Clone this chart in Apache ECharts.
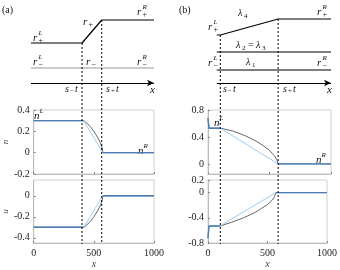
<!DOCTYPE html>
<html><head><meta charset="utf-8">
<script src="https://cdn.jsdelivr.net/npm/echarts@6/dist/echarts.min.js"></script>
<style>html,body{margin:0;padding:0;background:#fff}#c{width:340px;height:270px}</style>
</head><body><div id="c"></div>
<script>
// ---- panel (a): shocks / fan ----
const aSMinus = 415, aSPlus = 575;
const aX      = [0,   415, 440,  470,   500, 530,   555,  570,  575, 1000];
const aNgray  = [0.3, 0.3, 0.28, 0.245, 0.2, 0.145, 0.09, 0.04, 0,   0];
const aUgray  = [-0.3,-0.3,-0.28,-0.245,-0.2,-0.145,-0.09,-0.04,0,   0];
const aXlin   = [0, 415, 575, 1000];
const aNlin   = [0.3, 0.3, 0, 0];
const aUlin   = [-0.3, -0.3, 0, 0];
// ---- panel (b) ----
const bSMinus = 100, bSPlus = 570;
const bX      = [0,    8,    100,  200,  300,  400,  450,  500,  540,  560,  570, 1000];
const bNgray  = [0.68, 0.53, 0.53, 0.49, 0.42, 0.33, 0.27, 0.20, 0.12, 0.06, 0,   0];
const bUgray  = [-0.72,-0.53,-0.53,-0.47,-0.40,-0.31,-0.25,-0.19,-0.12,-0.06,0,   0];
const bXlin   = [0, 8, 100, 570, 1000];
const bNlin   = [0.68, 0.53, 0.53, 0, 0];
const bUlin   = [-0.72, -0.53, -0.53, 0, 0];
// ---- schematic wave diagrams (levels in diagram units) ----
const aDiagX  = [0, 415, 575, 1000];
const aRplus  = [201, 201, 224, 224];
const aRminus = 176, aAxis = 161;
const bDiagX  = [71, 100, 570, 1000];
const bRplus  = [209, 209, 225, 225];
const bLam23 = 192, bRminus = 174, bAxis = 161, bStart = 71;
const xTickLabels = [0, 500, 1000];

const FONT = '"Liberation Serif", "Times New Roman", "DejaVu Serif", serif';
const C_GRAY = '#666666', C_LIGHT = '#9ccbf0', C_BLUE = '#4a7db3';

function zip(xs, ys){ return xs.map((x,i)=>[x, ys[i]]); }
function flatParts(xs, ys, s1, s2){
  const out = [];
  xs.forEach((x,i)=>{ if (x<=s1) out.push([x,ys[i]]); });
  out.push(null);
  xs.forEach((x,i)=>{ if (x>=s2) out.push([x,ys[i]]); });
  return out;
}

const grids = [
  {left:31, width:123, top:110, height:64},
  {left:31, width:123, top:180, height:64},
  {left:208, width:123, top:110, height:64},
  {left:208, width:123, top:180, height:64},
  {left:31, width:123, top:0, height:244},
  {left:208, width:123, top:0, height:244}
].map(g=>Object.assign({show:g.top!==0, borderColor:'#d0d0d0', borderWidth:1, containLabel:false}, g));

function panelX(idx, showLabels){
  return {type:'value', gridIndex:idx, min:0, max:1000,
    axisLine:{show:true, onZero:false, lineStyle:{color:'#bbb', width:1}},
    axisTick:{show:true, inside:true, length:2, lineStyle:{color:'#888'}, customValues:xTickLabels},
    splitLine:{show:false},
    axisLabel:{show:showLabels, fontFamily:FONT, fontSize:10, color:'#222', margin:5,
      customValues:xTickLabels, formatter:(v)=>String(v)},
    name: showLabels ? 'x' : '', nameLocation:'middle', nameGap:16,
    nameTextStyle:{fontFamily:FONT, fontStyle:'italic', fontSize:10, color:'#444'}};
}
function panelY(idx, min, max, vals, name){
  return {type:'value', gridIndex:idx, min:min, max:max,
    axisLine:{show:true, onZero:false, lineStyle:{color:'#bbb', width:1}},
    axisTick:{show:true, inside:true, length:2, lineStyle:{color:'#888'}, customValues:vals},
    splitLine:{show:false},
    axisLabel:{fontFamily:FONT, fontSize:10, color:'#222', margin:4, customValues:vals,
      formatter:(v)=>String(Math.round(v*10)/10)},
    name:name, nameLocation:'middle', nameGap:22, nameRotate:90,
    nameTextStyle:{fontFamily:FONT, fontStyle:'italic', fontSize:9, color:'#444'}};
}
function hiddenX(idx){ return {type:'value', gridIndex:idx, min:0, max:1000, show:false}; }
function hiddenY(idx){ return {type:'value', gridIndex:idx, min:0, max:244, show:false}; }

function curve(idx, data, color, w, z){
  return {type:'line', xAxisIndex:idx, yAxisIndex:idx, data:data, symbol:'none',
    lineStyle:{color:color, width:w}, z:z, silent:true, animation:false, connectNulls:false};
}
function dline(idx, data, color, w, dash){
  return {type:'line', xAxisIndex:idx, yAxisIndex:idx, data:data, symbol:'none',
    lineStyle:{color:color, width:w, type:dash||'solid'}, z:5, silent:true, animation:false};
}
function arrowAxis(idx, x0, level){
  return {type:'line', xAxisIndex:idx, yAxisIndex:idx, data:[], symbol:'none', animation:false,
    markLine:{silent:true, animation:false, symbol:['none','arrow'], symbolSize:[5,7],
      lineStyle:{color:'#000', width:1.2, type:'solid'}, label:{show:false},
      data:[[{coord:[x0, level]},{coord:[1000, level]}]]}};
}

const series = [
  curve(0, zip(aX, aNgray), C_GRAY, 1, 2),
  curve(0, zip(aXlin, aNlin), C_LIGHT, 1, 3),
  curve(0, flatParts(aXlin, aNlin, aSMinus, aSPlus), C_BLUE, 1.4, 4),
  curve(1, zip(aX, aUgray), C_GRAY, 1, 2),
  curve(1, zip(aXlin, aUlin), C_LIGHT, 1, 3),
  curve(1, flatParts(aXlin, aUlin, aSMinus, aSPlus), C_BLUE, 1.4, 4),
  curve(2, zip(bX, bNgray), C_GRAY, 1, 2),
  curve(2, zip(bXlin, bNlin), C_LIGHT, 1, 3),
  curve(2, flatParts(bXlin, bNlin, bSMinus, bSPlus), C_BLUE, 1.4, 4),
  curve(3, zip(bX, bUgray), C_GRAY, 1, 2),
  curve(3, zip(bXlin, bUlin), C_LIGHT, 1, 3),
  curve(3, flatParts(bXlin, bUlin, bSMinus, bSPlus), C_BLUE, 1.4, 4),
  dline(4, zip(aDiagX, aRplus), '#000', 1.2),
  dline(4, [[0, aRminus],[1000, aRminus]], '#999', 1.2),
  arrowAxis(4, 0, aAxis),
  dline(4, [[aSMinus, aRplus[1]],[aSMinus, 0]], '#000', 1, [2,2]),
  dline(4, [[aSPlus, aRplus[2]],[aSPlus, 0]], '#000', 1, [2,2]),
  dline(5, [[bStart, bRplus[0]]].concat(zip(bDiagX, bRplus).slice(1)), '#000', 1.2),
  dline(5, [[bStart, bLam23],[1000, bLam23]], '#000', 1.2),
  dline(5, [[bStart, bRminus],[1000, bRminus]], '#000', 1.2),
  arrowAxis(5, bStart, bAxis),
  dline(5, [[bSMinus, bRplus[1]],[bSMinus, 0]], '#000', 1, [2,2]),
  dline(5, [[bSPlus, bRplus[2]],[bSPlus, 0]], '#000', 1, [2,2])
];

const g = [];
function t(x, y, s, size, italic, align){
  g.push({type:'text', x:x, y:y, silent:true, style:{text:s, fontFamily:FONT, fontSize:size||11,
    fontStyle: italic===false ? 'normal' : 'italic', fill:'#111', align:align||'left', verticalAlign:'middle'}});
}
function sym(x, y, base, sup, sub){
  t(x, y, base, 11, true);
  if (sup) t(x+5.5, y-5, sup, 7, true);
  if (sub) t(x+5.5, y+3, sub, 8, false);
}
t(2, 10, '(a)', 10, false);
t(179, 10, '(b)', 10, false);
sym(33, 38, 'r', 'L', '+');
sym(83, 22, 'r', null, '+');
sym(137, 12, 'r', 'R', '+');
sym(33, 62, 'r', 'L', '\u2212');
sym(86, 62, 'r', null, '\u2212');
sym(137, 62, 'r', 'R', '\u2212');
t(65, 89, 's', 10, true); t(70, 91, '\u2212', 7, false); t(75, 89, 't', 10, true);
t(106, 89, 's', 10, true); t(111, 91, '+', 7, false); t(116, 89, 't', 10, true);
t(150, 90, 'x', 11, true);
sym(208, 27, 'r', 'L', '+');
t(238, 13, '\u03bb', 10, true); t(244, 16, '4', 7, false);
sym(317, 12, 'r', 'R', '+');
t(236, 45, '\u03bb', 10, true); t(242, 48, '2', 7, false);
t(248, 45, '=', 10, false);
t(256, 45, '\u03bb', 10, true); t(262, 48, '3', 7, false);
sym(208, 63, 'r', 'L', '\u2212');
t(246, 62, '\u03bb', 10, true); t(252, 65, '1', 7, false);
sym(317, 63, 'r', 'R', '\u2212');
t(223, 89, 's', 10, true); t(228, 91, '\u2212', 7, false); t(233, 89, 't', 10, true);
t(283, 89, 's', 10, true); t(288, 91, '+', 7, false); t(293, 89, 't', 10, true);
t(327, 90, 'x', 11, true);
sym(34, 116, 'n', 'L', null);
sym(138, 151, 'n', 'R', null);
sym(214, 123, 'n', 'L', null);
sym(316, 160, 'n', 'R', null);

const option = {
  animation:false,
  grid: grids,
  xAxis: [panelX(0,false), panelX(1,true), panelX(2,false), panelX(3,true), hiddenX(4), hiddenX(5)],
  yAxis: [
    panelY(0, -0.2, 0.4, [-0.2, 0, 0.2, 0.4], 'n'),
    panelY(1, -0.45, 0.15, [-0.4, -0.2, 0], 'u'),
    panelY(2, -0.15, 0.8, [0, 0.4, 0.8], ''),
    panelY(3, -0.8, 0.2, [-0.8, -0.4, 0, 0.2], ''),
    hiddenY(4), hiddenY(5)
  ],
  series: series,
  graphic: g
};
const chart = echarts.init(document.getElementById('c'), null, {renderer:'canvas'});
chart.setOption(option);
</script></body></html>
